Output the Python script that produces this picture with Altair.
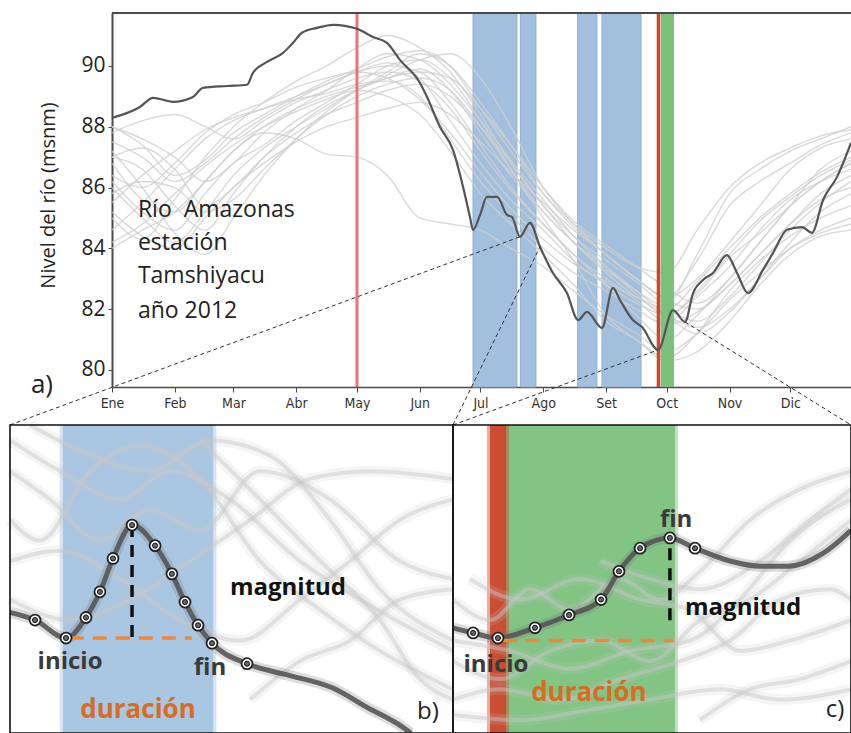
import altair as alt
import pandas as pd

# ---------------- axis text ----------------
MONTH_STARTS = [0, 31, 60, 91, 121, 152, 182, 213, 244, 274, 305, 335]
MONTH_NAMES = ["Ene", "Feb", "Mar", "Abr", "May", "Jun", "Jul", "Ago", "Set", "Oct", "Nov", "Dic"]
Y_TICKS = [80, 82, 84, 86, 88, 90]
Y_TITLE = "Nivel del río (msnm)"

TOP_DAY_DOMAIN = [0, 365]
TOP_LEVEL_DOMAIN = [79.44, 91.74]

# ---------------- other years (grey) ----------------
GREY_DAYS = [0, 15, 31, 46, 60, 75, 91, 106, 121, 136, 152, 167, 182, 197, 213, 228, 244, 259, 274, 289, 305, 320, 335, 350, 365]
yr_1994 = [87.5, 87.0, 86.2, 86.8, 87.6, 88.3, 88.9, 89.4, 89.8, 90.1, 89.6, 88.2, 86.8, 85.6, 84.6, 83.6, 82.8, 82.2, 81.8, 82.6, 83.8, 84.9, 85.7, 86.4, 86.9]
yr_1995 = [86.0, 85.0, 84.2, 85.2, 86.4, 87.3, 88.0, 88.6, 89.2, 89.6, 89.9, 89.2, 87.8, 86.4, 85.2, 84.2, 83.3, 82.6, 82.0, 81.6, 82.4, 83.5, 84.6, 85.5, 86.2]
yr_1996 = [88.0, 87.6, 87.0, 86.2, 86.8, 87.8, 88.6, 89.2, 89.9, 90.4, 90.2, 89.4, 88.2, 86.9, 85.6, 84.4, 83.4, 82.5, 81.8, 82.5, 83.7, 84.5, 85.4, 86.2, 86.8]
yr_1997 = [84.2, 84.8, 85.8, 86.7, 87.4, 88.0, 88.5, 88.9, 89.2, 89.0, 88.4, 87.2, 85.8, 84.8, 83.8, 82.8, 81.6, 81.0, 80.4, 81.2, 82.6, 83.6, 84.4, 85.0, 85.4]
yr_1998 = [87.2, 86.0, 84.5, 83.8, 85.0, 86.4, 87.6, 88.5, 89.2, 89.8, 90.4, 90.0, 88.8, 87.4, 85.8, 84.7, 83.8, 83.0, 82.4, 83.6, 85.4, 86.2, 86.8, 87.4, 87.8]
yr_1999 = [85.5, 86.4, 87.2, 87.9, 88.3, 88.6, 88.9, 89.1, 89.4, 89.5, 89.0, 87.6, 86.2, 85.1, 84.0, 83.2, 82.6, 82.0, 81.5, 81.9, 82.8, 83.8, 84.8, 85.6, 86.0]
yr_2000 = [86.8, 85.6, 85.2, 86.2, 87.2, 87.8, 87.6, 87.1, 87.0, 86.4, 85.0, 84.8, 84.6, 84.0, 83.4, 82.6, 81.8, 81.2, 80.6, 81.2, 82.3, 83.2, 84.0, 84.5, 84.8]
yr_2001 = [85.0, 84.3, 85.6, 87.0, 88.0, 88.8, 89.5, 90.0, 90.6, 91.0, 90.6, 89.8, 88.4, 86.8, 85.4, 84.4, 83.6, 82.9, 82.2, 83.8, 85.8, 86.6, 87.2, 87.6, 88.0]
yr_2002 = [87.0, 87.3, 86.6, 85.4, 86.0, 87.0, 87.8, 88.4, 88.8, 89.2, 89.4, 89.0, 88.0, 86.8, 85.4, 84.2, 83.2, 82.4, 81.8, 81.4, 82.0, 83.0, 84.0, 84.6, 85.0]
yr_2003 = [84.6, 85.5, 86.6, 87.6, 88.2, 88.6, 89.0, 89.4, 89.8, 90.0, 89.8, 88.8, 87.4, 86.0, 84.8, 83.8, 82.8, 81.8, 81.0, 81.8, 83.0, 84.2, 85.4, 86.6, 87.2]
yr_2004 = [86.4, 86.0, 86.8, 87.8, 88.4, 88.8, 89.3, 89.6, 89.8, 89.6, 88.9, 87.8, 86.5, 85.3, 84.3, 83.5, 82.9, 82.4, 82.0, 82.9, 84.0, 85.0, 85.8, 86.5, 87.0]
yr_2005 = [85.2, 84.4, 84.0, 85.0, 86.0, 86.8, 87.5, 88.0, 88.3, 88.6, 88.8, 88.4, 87.5, 86.5, 85.5, 84.6, 83.8, 83.0, 82.3, 82.0, 82.8, 83.8, 84.8, 85.8, 86.4]
yr_2006 = [87.8, 88.2, 88.4, 88.0, 87.6, 88.2, 88.8, 89.2, 89.6, 89.8, 89.5, 88.6, 87.2, 85.9, 84.8, 83.8, 83.0, 82.3, 81.6, 82.4, 83.4, 84.6, 85.6, 86.2, 86.6]
yr_2007 = [84.0, 84.6, 85.2, 86.2, 87.2, 88.0, 88.6, 89.0, 89.3, 89.6, 89.8, 89.6, 88.6, 87.4, 86.0, 84.9, 84.1, 83.4, 82.7, 82.2, 83.0, 84.2, 85.4, 86.2, 86.8]
yr_2008 = [86.2, 85.2, 84.6, 85.8, 86.8, 87.4, 88.2, 88.8, 89.4, 90.0, 90.2, 89.6, 88.2, 86.6, 85.0, 83.6, 81.8, 81.0, 80.3, 80.6, 81.6, 82.8, 83.8, 84.4, 84.6]
yr_2009 = [88.0, 87.4, 86.4, 86.9, 87.8, 88.4, 89.0, 89.5, 89.9, 90.3, 90.5, 90.0, 88.6, 87.2, 85.8, 84.8, 84.0, 83.4, 83.2, 84.6, 86.0, 86.8, 87.3, 87.7, 87.9]
yr_2010 = [85.8, 86.2, 86.0, 85.2, 85.6, 86.6, 87.6, 88.4, 89.0, 89.4, 89.6, 89.2, 88.0, 86.6, 85.2, 84.2, 83.4, 82.6, 81.8, 81.2, 81.9, 83.0, 84.2, 85.2, 85.8]
yr_2011 = [87.0, 86.6, 85.4, 84.6, 85.8, 87.0, 88.0, 88.7, 89.2, 89.7, 90.2, 90.4, 89.6, 88.0, 86.0, 84.8, 83.8, 83.0, 82.4, 83.0, 84.2, 85.4, 86.6, 87.3, 87.6]
GREY_YEARS = [1994, 1995, 1996, 1997, 1998, 1999, 2000, 2001, 2002, 2003, 2004, 2005, 2006, 2007, 2008, 2009, 2010, 2011]
GREY_SERIES = [yr_1994, yr_1995, yr_1996, yr_1997, yr_1998, yr_1999, yr_2000, yr_2001, yr_2002,
               yr_2003, yr_2004, yr_2005, yr_2006, yr_2007, yr_2008, yr_2009, yr_2010, yr_2011]

# ---------------- year 2012 ----------------
d2012_day = [0, 13.8, 20.3, 30.1, 40.0, 44.9, 56.8, 66.7, 69.6, 76.6, 84.5, 89.4, 93.8, 101.2, 109.2, 121.0,
             128.9, 135.8, 142.2, 152.1, 155.6, 162.0, 168.4, 173.4, 176.8, 178.3, 181.8, 185.2, 190.2, 195.1,
             197.6, 201.5, 206.4, 211.4, 217.8, 224.7, 230.2, 234.6, 242.0, 247.4, 250.9, 257.3, 261.8, 269.7,
             277.1, 283.0, 287.0, 291.9, 296.8, 303.7, 308.7, 314.1, 321.5, 326.5, 333.4, 340.8, 345.7, 351.2,
             358.1, 365.0]
d2012_level = [88.29, 88.65, 88.95, 88.82, 88.98, 89.28, 89.34, 89.38, 89.77, 90.13, 90.43, 90.76, 91.09, 91.25,
               91.35, 91.22, 90.95, 90.76, 90.20, 89.44, 88.98, 87.99, 87.24, 86.02, 85.03, 84.61, 85.10, 85.69,
               85.69, 85.10, 85.03, 84.38, 84.84, 84.05, 83.19, 82.53, 81.64, 81.91, 81.38, 82.70, 82.30, 81.64,
               81.41, 80.66, 81.97, 81.58, 82.53, 82.96, 83.19, 83.78, 83.19, 82.53, 83.29, 83.85, 84.61, 84.70,
               84.51, 85.59, 86.35, 87.47]

# ---------------- events ----------------
blue_start = [178.3, 201.7, 230.0, 242.0]
blue_end = [200.0, 209.4, 239.5, 261.3]
may_rule_day = [121.0]
low_rule_day = [269.9]
green_start = [271.0]
green_end = [277.6]

info_lines = ["Río\u00a0 Amazonas", "estación", "Tamshiyacu", "año 2012"]
info_day = [12.8, 12.8, 12.8, 12.8]
info_level = [85.03, 83.94, 82.86, 81.71]

label_a = ["a)"]
label_a_day = [-34.6]
label_a_level = [79.5]

conn_id = [1, 1, 2, 2, 3, 3, 4, 4]
conn_day = [-50.4, 201.5, 168.4, 211.4, 168.4, 269.7, 365.0, 283.0]
conn_level = [78.19, 84.38, 78.19, 84.05, 78.19, 80.66, 78.19, 81.58]

# ---------------- panel b (zoom on a blue pulse) ----------------
B_DAY_DOMAIN = [196.0, 216.0]
B_LEVEL_DOMAIN = [84.0, 85.2]
b_line_day = [196.0, 197.13, 198.53, 199.43, 200.06, 200.65, 201.51, 202.55, 203.31, 203.90, 204.49, 205.12,
              206.70, 208.33, 210.58, 212.12, 213.61, 214.1]
b_line_level = [84.47, 84.44, 84.37, 84.45, 84.55, 84.68, 84.81, 84.73, 84.62, 84.51, 84.42, 84.35,
                84.27, 84.23, 84.175, 84.10, 84.03, 84.0]
b_mark_day = [197.13, 198.53, 199.43, 200.06, 200.65, 201.51, 202.55, 203.31, 203.90, 204.49, 205.12, 206.70]
b_mark_level = [84.44, 84.37, 84.45, 84.55, 84.68, 84.81, 84.73, 84.62, 84.51, 84.42, 84.35, 84.27]
b_span = [198.39, 205.17]
b_peak = [201.51, 84.81, 84.36]
b_base = [198.7, 204.2, 84.37]

b_g1 = ([196.0, 198.26, 200.97, 203.22, 205.93, 209.09, 211.8, 216.0], [85.14, 85.02, 84.91, 85.02, 84.91, 84.67, 84.52, 84.32])
b_g2 = ([196.0, 197.8, 200.06, 202.32, 204.58, 207.29, 210.45, 213.6, 216.0], [85.02, 84.91, 84.75, 84.87, 84.79, 85.02, 84.91, 84.67, 84.60])
b_g3 = ([196.0, 197.35, 199.61, 201.87, 204.58, 207.29, 210.0, 212.7, 216.0], [84.83, 84.75, 85.02, 85.12, 84.99, 84.67, 84.48, 84.32, 84.17])
b_g4 = ([196.9, 199.16, 202.32, 205.03, 207.74, 210.45, 212.7, 216.0], [85.20, 85.10, 85.02, 85.14, 85.08, 84.83, 84.56, 84.36])
b_g5 = ([196.0, 198.26, 200.97, 203.67, 206.38, 209.09, 211.35, 213.6, 216.0], [84.67, 84.71, 84.60, 84.44, 84.36, 84.52, 84.67, 84.83, 84.91])
b_g6 = ([206.84, 209.09, 211.35, 213.6, 216.0], [84.13, 84.28, 84.36, 84.52, 84.56])
b_g7 = ([204.58, 207.29, 210.0, 212.7, 214.5, 216.0], [85.14, 84.91, 84.67, 84.44, 84.21, 84.13])
b_g8 = ([196.0, 198.71, 201.42, 204.13, 206.84, 209.54, 212.25, 216.0], [84.52, 84.44, 84.52, 84.67, 84.83, 84.99, 85.02, 84.99])
B_GREY = [b_g1, b_g2, b_g3, b_g4, b_g5, b_g6, b_g7, b_g8]

b_texts = ["magnitud", "inicio", "fin", "duración", "b)"]
b_text_day = [205.93, 198.71, 205.03, 201.78, 214.87]
b_text_level = [84.565, 84.277, 84.253, 84.09, 84.08]

# ---------------- panel c (zoom on the green pulse) ----------------
C_DAY_DOMAIN = [267.0, 287.0]
C_LEVEL_DOMAIN = [80.4, 81.6]
c_line_day = [267.0, 268.01, 269.26, 271.12, 272.83, 274.44, 275.34, 276.40, 277.90, 279.16, 280.92, 282.43,
              283.83, 285.59, 287.0]
c_line_level = [80.81, 80.79, 80.77, 80.81, 80.86, 80.92, 81.03, 81.12, 81.16, 81.12, 81.07, 81.05,
                81.05, 81.10, 81.19]
c_mark_day = [268.01, 269.26, 271.12, 272.83, 274.44, 275.34, 276.40, 277.90, 279.16]
c_mark_level = [80.79, 80.77, 80.81, 80.86, 80.92, 81.03, 81.12, 81.16, 81.12]
c_red = [268.86, 269.66]
c_green = [269.66, 278.16]
c_peak = [277.9, 81.12, 80.82]
c_base = [269.5, 278.06, 80.76]

c_g1 = ([267.0, 268.86, 270.87, 272.88, 275.39, 277.4, 279.41, 281.92, 284.44, 287.0], [80.92, 80.84, 80.96, 80.88, 81.0, 80.92, 81.03, 81.23, 81.35, 81.42])
c_g2 = ([267.0, 269.36, 271.87, 274.39, 276.9, 279.41, 281.92, 284.44, 287.0], [80.68, 80.61, 80.72, 80.76, 80.68, 80.84, 80.92, 81.07, 81.23])
c_g3 = ([267.0, 269.36, 272.38, 275.39, 278.41, 280.92, 283.43, 285.94, 287.0], [80.53, 80.57, 80.53, 80.61, 80.68, 80.76, 80.92, 80.96, 80.92])
c_g4 = ([267.85, 270.37, 273.38, 276.4, 278.91, 281.42, 283.93, 287.0], [81.0, 80.92, 81.0, 80.92, 80.88, 80.72, 80.76, 80.84])
c_g5 = ([267.0, 269.86, 272.88, 275.89, 278.91, 281.42, 283.93, 287.0], [80.76, 80.72, 80.65, 80.72, 80.76, 80.92, 81.15, 81.31])
c_g6 = ([279.41, 281.92, 284.44, 287.0], [80.45, 80.57, 80.61, 80.68])
c_g7 = ([267.0, 270.37, 273.88, 276.9, 280.42, 283.43, 287.0], [80.47, 80.45, 80.49, 80.53, 80.57, 80.53, 80.57])
c_g8 = ([274.39, 276.9, 279.41, 282.43, 284.94, 287.0], [81.07, 81.0, 80.96, 81.07, 81.23, 81.35])
C_GREY = [c_g1, c_g2, c_g3, c_g4, c_g5, c_g6, c_g7, c_g8]

c_texts = ["fin", "magnitud", "inicio", "duración", "c)"]
c_text_day = [278.21, 278.66, 269.16, 273.83, 286.2]
c_text_level = [81.23, 80.887, 80.665, 80.556, 80.49]

# ---------------- layout (pixel ranges of the panels) ----------------
W, H = 739, 374
B_X_RANGE = [-102, 341]
C_X_RANGE = [341, 739]
BOT_Y_RANGE = [720, 412]

FONT = "Open Sans"
ORANGE = "#d76d22"
ORANGE_DASH = "#ee8838"

# =====================================================================
# top panel
# =====================================================================
XS = alt.Scale(domain=TOP_DAY_DOMAIN, nice=False, zero=False)
YS = alt.Scale(domain=TOP_LEVEL_DOMAIN, nice=False, zero=False)
label_expr = "".join(f"datum.value == {v} ? '{n}' : " for v, n in zip(MONTH_STARTS, MONTH_NAMES)) + "''"
X_AXIS = alt.Axis(values=MONTH_STARTS, labelExpr=label_expr, grid=False, domainColor="#4a4a4a",
                  domainWidth=1.6, tickColor="#4a4a4a", tickSize=5, labelFont="DejaVu Sans Condensed, DejaVu Sans",
                  labelFontSize=14, labelColor="#333", labelPadding=4, labelFlush=False)
Y_AXIS = alt.Axis(values=Y_TICKS, grid=False, domainColor="#4a4a4a", domainWidth=2, tickColor="#4a4a4a",
                  tickSize=4, labelFont=FONT, labelFontSize=21, labelColor="#222", labelPadding=3,
                  titleFont=FONT, titleFontSize=20, titleFontWeight="normal", titleColor="#222",
                  titleX=-64, titleY=182, titleAngle=-90, titleAlign="center", titleBaseline="middle")


def tx(field="day"):
    return alt.X(f"{field}:Q", scale=XS, axis=X_AXIS, title=None)


def ty(field="level"):
    return alt.Y(f"{field}:Q", scale=YS, axis=Y_AXIS, title=Y_TITLE)


grey_rows = []
for yr, vals in zip(GREY_YEARS, GREY_SERIES):
    for d, v in zip(GREY_DAYS, vals):
        grey_rows.append({"year": yr, "day": d, "level": v})
grey_df = pd.DataFrame(grey_rows)
y2012_df = pd.DataFrame({"day": d2012_day, "level": d2012_level})
blue_df = pd.DataFrame({"day": blue_start, "end": blue_end})
green_df = pd.DataFrame({"day": green_start, "end": green_end})
may_df = pd.DataFrame({"day": may_rule_day})
low_df = pd.DataFrame({"day": low_rule_day})
info_df = pd.DataFrame({"t": info_lines, "day": info_day, "level": info_level})
a_df = pd.DataFrame({"t": label_a, "day": label_a_day, "level": label_a_level})
conn_df = pd.DataFrame({"id": conn_id, "day": conn_day, "level": conn_level})
top_border_df = pd.DataFrame({"level": [TOP_LEVEL_DOMAIN[1]]})

top_layers = [
    alt.Chart(blue_df).mark_rect(color="#a2c0dd", stroke="#8fb0d0", strokeWidth=1).encode(x=tx(), x2="end:Q"),
    alt.Chart(grey_df).mark_line(color="#cfcfcf", strokeWidth=1.4, opacity=0.8, interpolate="monotone").encode(
        x=tx(), y=ty(), detail="year:N"),
    alt.Chart(green_df).mark_rect(color="#7cc07c").encode(x=tx(), x2="end:Q"),
    alt.Chart(may_df).mark_rule(color="#f07272", strokeWidth=3).encode(x=tx()),
    alt.Chart(low_df).mark_rule(color="#cf462c", strokeWidth=3.5).encode(x=tx()),
    alt.Chart(y2012_df).mark_line(color="#555555", strokeWidth=2.2, interpolate="monotone").encode(x=tx(), y=ty()),
    alt.Chart(top_border_df).mark_rule(color="#4a4a4a", strokeWidth=2).encode(y=ty()),
    alt.Chart(info_df).mark_text(align="left", baseline="alphabetic", font=FONT, fontSize=23, color="#222").encode(
        x=tx(), y=ty(), text="t:N"),
    alt.Chart(a_df).mark_text(align="center", baseline="middle", font=FONT, fontSize=26, color="#222").encode(
        x=tx(), y=ty(), text="t:N"),
    alt.Chart(conn_df).mark_line(color="#333", strokeWidth=1, strokeDash=[4, 3]).encode(
        x=tx(), y=ty(), detail="id:N"),
]
top = alt.layer(*top_layers)


# =====================================================================
# zoom panels
# =====================================================================
def zoom_panel(xdom, ydom, xrange, greys, line_d, line_l, mark_d, mark_l, bands, peak, base, texts, tdays, tlevels,
               text_styles):
    sx = alt.Scale(domain=xdom, range=xrange, nice=False, zero=False)
    sy = alt.Scale(domain=ydom, range=BOT_Y_RANGE, nice=False, zero=False)

    def px(f="day"):
        return alt.X(f"{f}:Q", scale=sx, axis=None)

    def py(f="level"):
        return alt.Y(f"{f}:Q", scale=sy, axis=None)

    layers = []
    for (b0, b1, col) in bands:
        bdf = pd.DataFrame({"day": [b0], "end": [b1], "level": [ydom[0]], "hi": [ydom[1]]})
        bdf_soft = pd.DataFrame({"day": [b0 - 0.15], "end": [b1 + 0.15], "level": [ydom[0]], "hi": [ydom[1]]})
        layers.append(alt.Chart(bdf_soft).mark_rect(color=col, opacity=0.45).encode(
            x=px(), x2="end:Q", y=py(), y2="hi:Q"))
        layers.append(alt.Chart(bdf).mark_rect(color=col, opacity=0.95).encode(
            x=px(), x2="end:Q", y=py(), y2="hi:Q"))
    rows = []
    for i, (gd, gl) in enumerate(greys):
        for d, l in zip(gd, gl):
            rows.append({"g": i, "day": d, "level": l})
    gdf = pd.DataFrame(rows)
    layers.append(alt.Chart(gdf).mark_line(color="#c8c8c8", strokeWidth=11, opacity=0.18,
                                           interpolate="monotone").encode(x=px(), y=py(), detail="g:N"))
    layers.append(alt.Chart(gdf).mark_line(color="#c8c8c8", strokeWidth=4, opacity=0.45,
                                           interpolate="monotone").encode(x=px(), y=py(), detail="g:N"))
    ldf = pd.DataFrame({"day": line_d, "level": line_l})
    layers.append(alt.Chart(ldf).mark_line(color="#777", strokeWidth=11, opacity=0.25,
                                           interpolate="monotone").encode(x=px(), y=py()))
    layers.append(alt.Chart(ldf).mark_line(color="#555", strokeWidth=5, opacity=0.9,
                                           interpolate="monotone").encode(x=px(), y=py()))
    base_df = pd.DataFrame({"day": [base[0]], "end": [base[1]], "level": [base[2]]})
    layers.append(alt.Chart(base_df).mark_rule(color=ORANGE_DASH, strokeWidth=3.5, strokeDash=[14, 9]).encode(
        x=px(), x2="end:Q", y=py()))
    peak_df = pd.DataFrame({"day": [peak[0]], "level": [peak[1]], "lo": [peak[2]]})
    layers.append(alt.Chart(peak_df).mark_rule(color="#111", strokeWidth=3.5, strokeDash=[12, 8]).encode(
        x=px(), y=py(), y2="lo:Q"))
    mdf = pd.DataFrame({"day": mark_d, "level": mark_l})
    layers.append(alt.Chart(mdf).mark_point(shape="circle", filled=True, size=120, fill="white", stroke="#222",
                                            strokeWidth=1.8, opacity=1).encode(x=px(), y=py()))
    layers.append(alt.Chart(mdf).mark_point(shape="circle", filled=True, size=26, fill="#666", stroke="#111",
                                            strokeWidth=1, opacity=1).encode(x=px(), y=py()))
    for t, d, l, st in zip(texts, tdays, tlevels, text_styles):
        tdf = pd.DataFrame({"t": [t], "day": [d], "level": [l]})
        layers.append(alt.Chart(tdf).mark_text(baseline="middle", font=FONT, **st).encode(
            x=px(), y=py(), text="t:N"))
    fdf = pd.DataFrame({"day": [xdom[0]], "end": [xdom[1]], "level": [ydom[0]], "hi": [ydom[1]]})
    layers.append(alt.Chart(fdf).mark_rect(filled=False, stroke="#111", strokeWidth=1.6).encode(
        x=px(), x2="end:Q", y=py(), y2="hi:Q"))
    return alt.layer(*layers)


bold_black = dict(fontSize=24, fontWeight="bold", color="#111")
bold_dark = dict(fontSize=24, fontWeight="bold", color="#3a3a3a")
bold_orange = dict(fontSize=26, fontWeight="bold", color=ORANGE)
plain = dict(fontSize=24, fontWeight="normal", color="#222")

panel_b = zoom_panel(
    B_DAY_DOMAIN, B_LEVEL_DOMAIN, B_X_RANGE, B_GREY, b_line_day, b_line_level, b_mark_day, b_mark_level,
    [(b_span[0], b_span[1], "#a6c4e0")], b_peak, b_base, b_texts, b_text_day, b_text_level,
    [dict(align="left", **bold_black), dict(align="center", **bold_dark), dict(align="center", **bold_dark),
     dict(align="center", **bold_orange), dict(align="center", **plain)])

panel_c = zoom_panel(
    C_DAY_DOMAIN, C_LEVEL_DOMAIN, C_X_RANGE, C_GREY, c_line_day, c_line_level, c_mark_day, c_mark_level,
    [(c_green[0], c_green[1], "#7dc27f"), (c_red[0], c_red[1], "#c9482c")], c_peak, c_base,
    c_texts, c_text_day, c_text_level,
    [dict(align="center", **bold_dark), dict(align="left", **bold_black), dict(align="center", **bold_dark),
     dict(align="center", **bold_orange), dict(align="center", **plain)])

chart = alt.layer(top, panel_b, panel_c).resolve_scale(x="independent", y="independent").properties(
    width=W, height=H,
    padding={"left": 112, "top": 13, "right": 0, "bottom": 346},
    autosize=alt.AutoSizeParams(type="none"),
    background="white",
).configure_view(stroke=None)

chart.save("out.html", embed_options={"renderer": "svg", "actions": False})
